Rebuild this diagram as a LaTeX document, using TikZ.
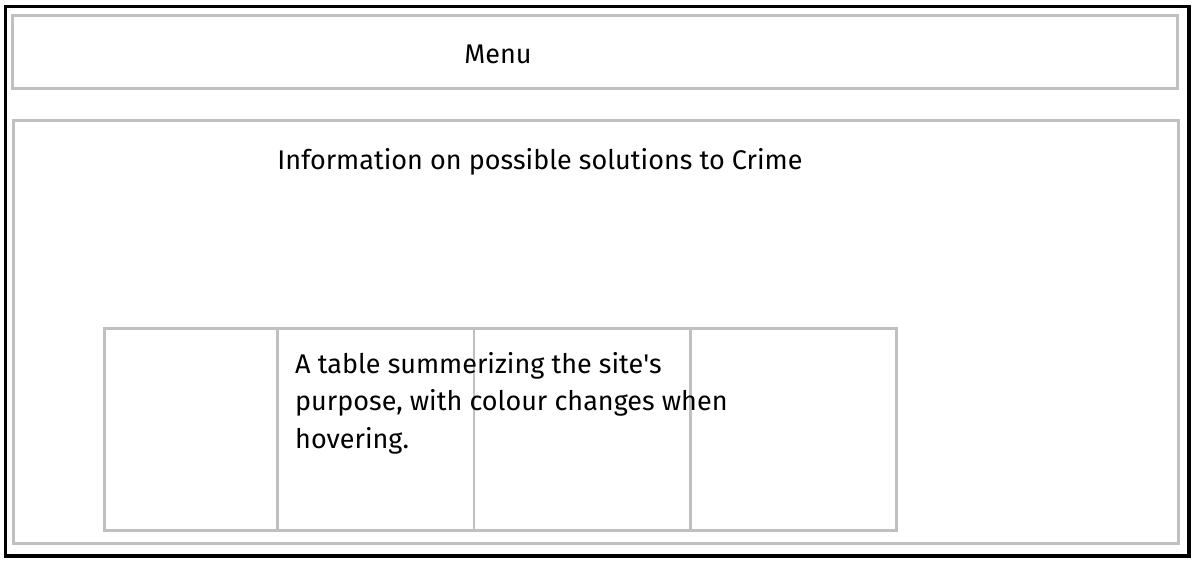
\documentclass[tikz,border=0pt]{standalone}
\usepackage{fontspec}
\setmainfont{Fira Sans}
\usepackage{tikz}
\usetikzlibrary{positioning}
\definecolor{wireGrey}{RGB}{192,192,192}
\tikzset{
    frame/.style={rectangle, draw=black, line width=3.5pt, inner sep=0pt, outer sep=0pt, anchor=north west},
    panel/.style={rectangle, draw=wireGrey, line width=3pt, inner sep=0pt, outer sep=0pt, anchor=north west},
    cell/.style={rectangle, draw=wireGrey, line width=2.7pt, inner sep=0pt, outer sep=0pt, minimum height=201.6pt},
    label/.style={inner sep=0pt, font=\fontsize{27}{37.5}\selectfont},
}

\begin{document}
\begin{tikzpicture}[x=1pt, y=-1pt]
    \useasboundingbox (0,0) rectangle (1197,566);

    % page frame and panels
    \node[frame, minimum width=1183.5pt, minimum height=549.5pt] (page) at (5.5,6.5) {};
    \node[panel, minimum width=1165pt, minimum height=73.2pt] (menu) at (12.5,15.5) {};
    \node[panel, minimum width=1164.5pt, minimum height=423.5pt] (content) at (13.5,120) {};

    % table columns
    \node[cell, anchor=north west, minimum width=172.5pt] (colA) at (104.7,328.7) {};
    \node[cell, minimum width=196.8pt, right=0pt of colA] (colB) {};
    \node[cell, minimum width=216.5pt, right=0pt of colB] (colC) {};
    \node[cell, minimum width=206pt, right=0pt of colC] (colD) {};

    % texts
    \node[label] (menuText) at (498,54) {Menu};
    \node[label] (infoText) at (540,162) {Information on possible solutions to Crime};
    \node[label, anchor=north west, align=left] (tableText) at (295,352)
        {A table summerizing the site\textquotesingle s\\purpose, with colour changes when\\hovering.};
\end{tikzpicture}
\end{document}
